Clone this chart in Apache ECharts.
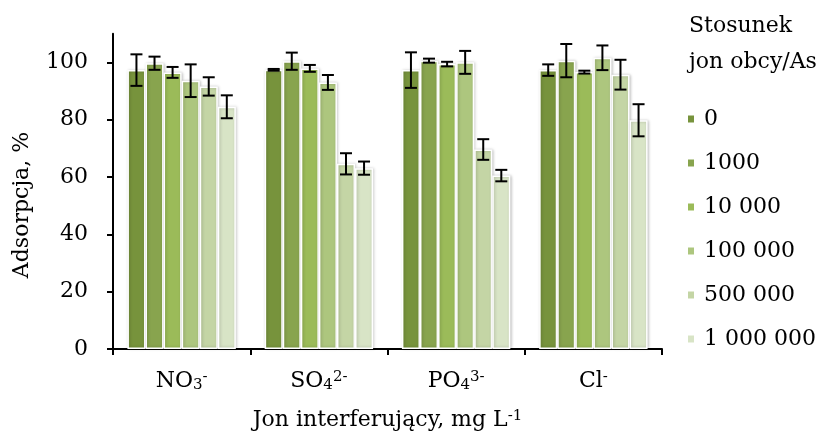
<!DOCTYPE html>
<html>
<head>
<meta charset="utf-8">
<script src="https://cdn.jsdelivr.net/npm/echarts@6/dist/echarts.min.js"></script>
<style>
  html, body { margin: 0; padding: 0; background: #fff; }
  #chart { width: 829px; height: 441px; }
</style>
</head>
<body>
<div id="chart"></div>
<script>
// Interfering ions (rich-text keys for sub/superscripts)
const categories = ['NO3', 'SO4', 'PO4', 'Cl'];
const categoryLabels = ['NO{sub|3}{sup|-}', 'SO{sub|4}{sup|2-}', 'PO{sub|4}{sup|3-}', 'Cl{sup|-}'];

// Ratio of foreign ion to As (legend entries)
const ratios = ['0', '1000', '10 000', '100 000', '500 000', '1 000 000'];

// Adsorption, % — one array per ratio, ordered as categories
const ads0       = [97.3, 97.4, 97.3, 97.3];
const ads1000    = [99.7, 100.4, 100.6, 100.6];
const ads10000   = [96.5, 97.9, 99.4, 96.6];
const ads100000  = [93.6, 93.0, 100.0, 101.6];
const ads500000  = [91.6, 64.6, 69.6, 95.7];
const ads1000000 = [84.5, 63.1, 60.5, 79.8];

// Standard deviations for the error bars
const sd0       = [5.5, 0.3, 6.2, 2.0];
const sd1000    = [2.3, 3.0, 0.7, 5.8];
const sd10000   = [1.9, 1.2, 0.8, 0.5];
const sd100000  = [5.7, 2.6, 4.0, 4.3];
const sd500000  = [3.2, 3.7, 3.6, 5.2];
const sd1000000 = [4.0, 2.3, 2.0, 5.6];

// Y axis ticks
const yTicks = [0, 20, 40, 60, 80, 100];

const values = [ads0, ads1000, ads10000, ads100000, ads500000, ads1000000];
const errors = [sd0, sd1000, sd10000, sd100000, sd500000, sd1000000];
const colors = ['#77933c', '#88a44e', '#9bbb59', '#adc67e', '#c4d5a5', '#d8e4c6'];

const FONT = 'DejaVu Serif';
const FS = 22;
const FS_SMALL = 15;
const CAT_GAP = 0.21;       // share of each category band left empty
const nSeries = ratios.length;

const barSeries = ratios.map((r, i) => ({
  name: r,
  type: 'bar',
  data: values[i],
  barGap: '0%',
  barCategoryGap: (CAT_GAP * 100) + '%',
  itemStyle: {
    color: colors[i],
    borderColor: '#ffffff',
    borderWidth: 1.5,
    shadowColor: 'rgba(0,0,0,0.22)',
    shadowBlur: 3,
    shadowOffsetX: 1,
    shadowOffsetY: 0
  },
  z: 2
}));

const errorSeries = ratios.map((r, i) => ({
  type: 'custom',
  name: r + ' sd',
  data: values[i].map((v, k) => [k, v - errors[i][k], v + errors[i][k]]),
  z: 5,
  silent: true,
  renderItem: function (params, api) {
    const k = api.value(0);
    const band = api.size([1, 0])[0];
    const barW = band * (1 - CAT_GAP) / nSeries;
    const cx = api.coord([k, 0])[0] + (i - (nSeries - 1) / 2) * barW;
    const lo = api.coord([k, api.value(1)])[1];
    const hi = api.coord([k, api.value(2)])[1];
    const cap = 6;
    const st = { stroke: '#000', lineWidth: 2 };
    return {
      type: 'group',
      children: [
        { type: 'line', shape: { x1: cx, y1: hi, x2: cx, y2: lo }, style: st },
        { type: 'line', shape: { x1: cx - cap, y1: hi, x2: cx + cap, y2: hi }, style: st },
        { type: 'line', shape: { x1: cx - cap, y1: lo, x2: cx + cap, y2: lo }, style: st }
      ]
    };
  }
}));

const chart = echarts.init(document.getElementById('chart'), null, { renderer: 'canvas' });

chart.setOption({
  animation: false,
  textStyle: { fontFamily: FONT, color: '#000' },
  title: {
    text: 'Stosunek\njon obcy/As',
    left: 689,
    top: 8,
    padding: 0,
    textStyle: { fontFamily: FONT, fontSize: FS, fontWeight: 'normal', color: '#000', lineHeight: 36 }
  },
  legend: {
    data: ratios,
    orient: 'vertical',
    left: 681,
    top: 103,
    icon: 'rect',
    itemWidth: 8,
    itemHeight: 9,
    itemGap: 22,
    textStyle: { fontFamily: FONT, fontSize: FS, color: '#000', padding: [0, 0, 0, 4] }
  },
  graphic: [{
    type: 'text',
    x: 22,
    y: 205,
    rotation: Math.PI / 2,
    style: {
      text: 'Adsorpcja, %',
      font: FS + 'px "' + FONT + '"',
      fill: '#000',
      align: 'center',
      verticalAlign: 'middle'
    }
  }],
  grid: { left: 113, right: 167, top: 33.7, bottom: 92, containLabel: false },
  xAxis: {
    type: 'category',
    data: categories,
    axisLine: { lineStyle: { color: '#000', width: 2 } },
    axisTick: { show: true, length: 6, lineStyle: { color: '#000', width: 2 } },
    axisLabel: {
      interval: 0,
      margin: 21,
      fontFamily: FONT,
      fontSize: FS,
      color: '#000',
      formatter: (v, idx) => categoryLabels[idx],
      rich: {
        sub: { fontFamily: FONT, fontSize: FS_SMALL, color: '#000', verticalAlign: 'bottom', padding: [8, 0, 0, 0] },
        sup: { fontFamily: FONT, fontSize: FS_SMALL, color: '#000', verticalAlign: 'top', padding: [0, 0, 8, 0] }
      }
    },
    name: 'Jon interferujący, mg L{sup|-1}',
    nameLocation: 'middle',
    nameGap: 60,
    nameTextStyle: {
      fontFamily: FONT,
      fontSize: FS,
      color: '#000',
      rich: {
        sup: { fontFamily: FONT, fontSize: FS_SMALL, color: '#000', verticalAlign: 'top', padding: [0, 0, 8, 0] }
      }
    }
  },
  yAxis: {
    type: 'value',
    min: 0,
    max: 110,
    interval: 20,
    splitLine: { show: false },
    axisLine: { show: true, lineStyle: { color: '#000', width: 2 } },
    axisTick: { show: true, length: 6, lineStyle: { color: '#000', width: 2 }, customValues: yTicks },
    axisLabel: { margin: 25, fontFamily: FONT, fontSize: FS, color: '#000', customValues: yTicks }
  },
  series: [...barSeries, ...errorSeries]
});
</script>
</body>
</html>
